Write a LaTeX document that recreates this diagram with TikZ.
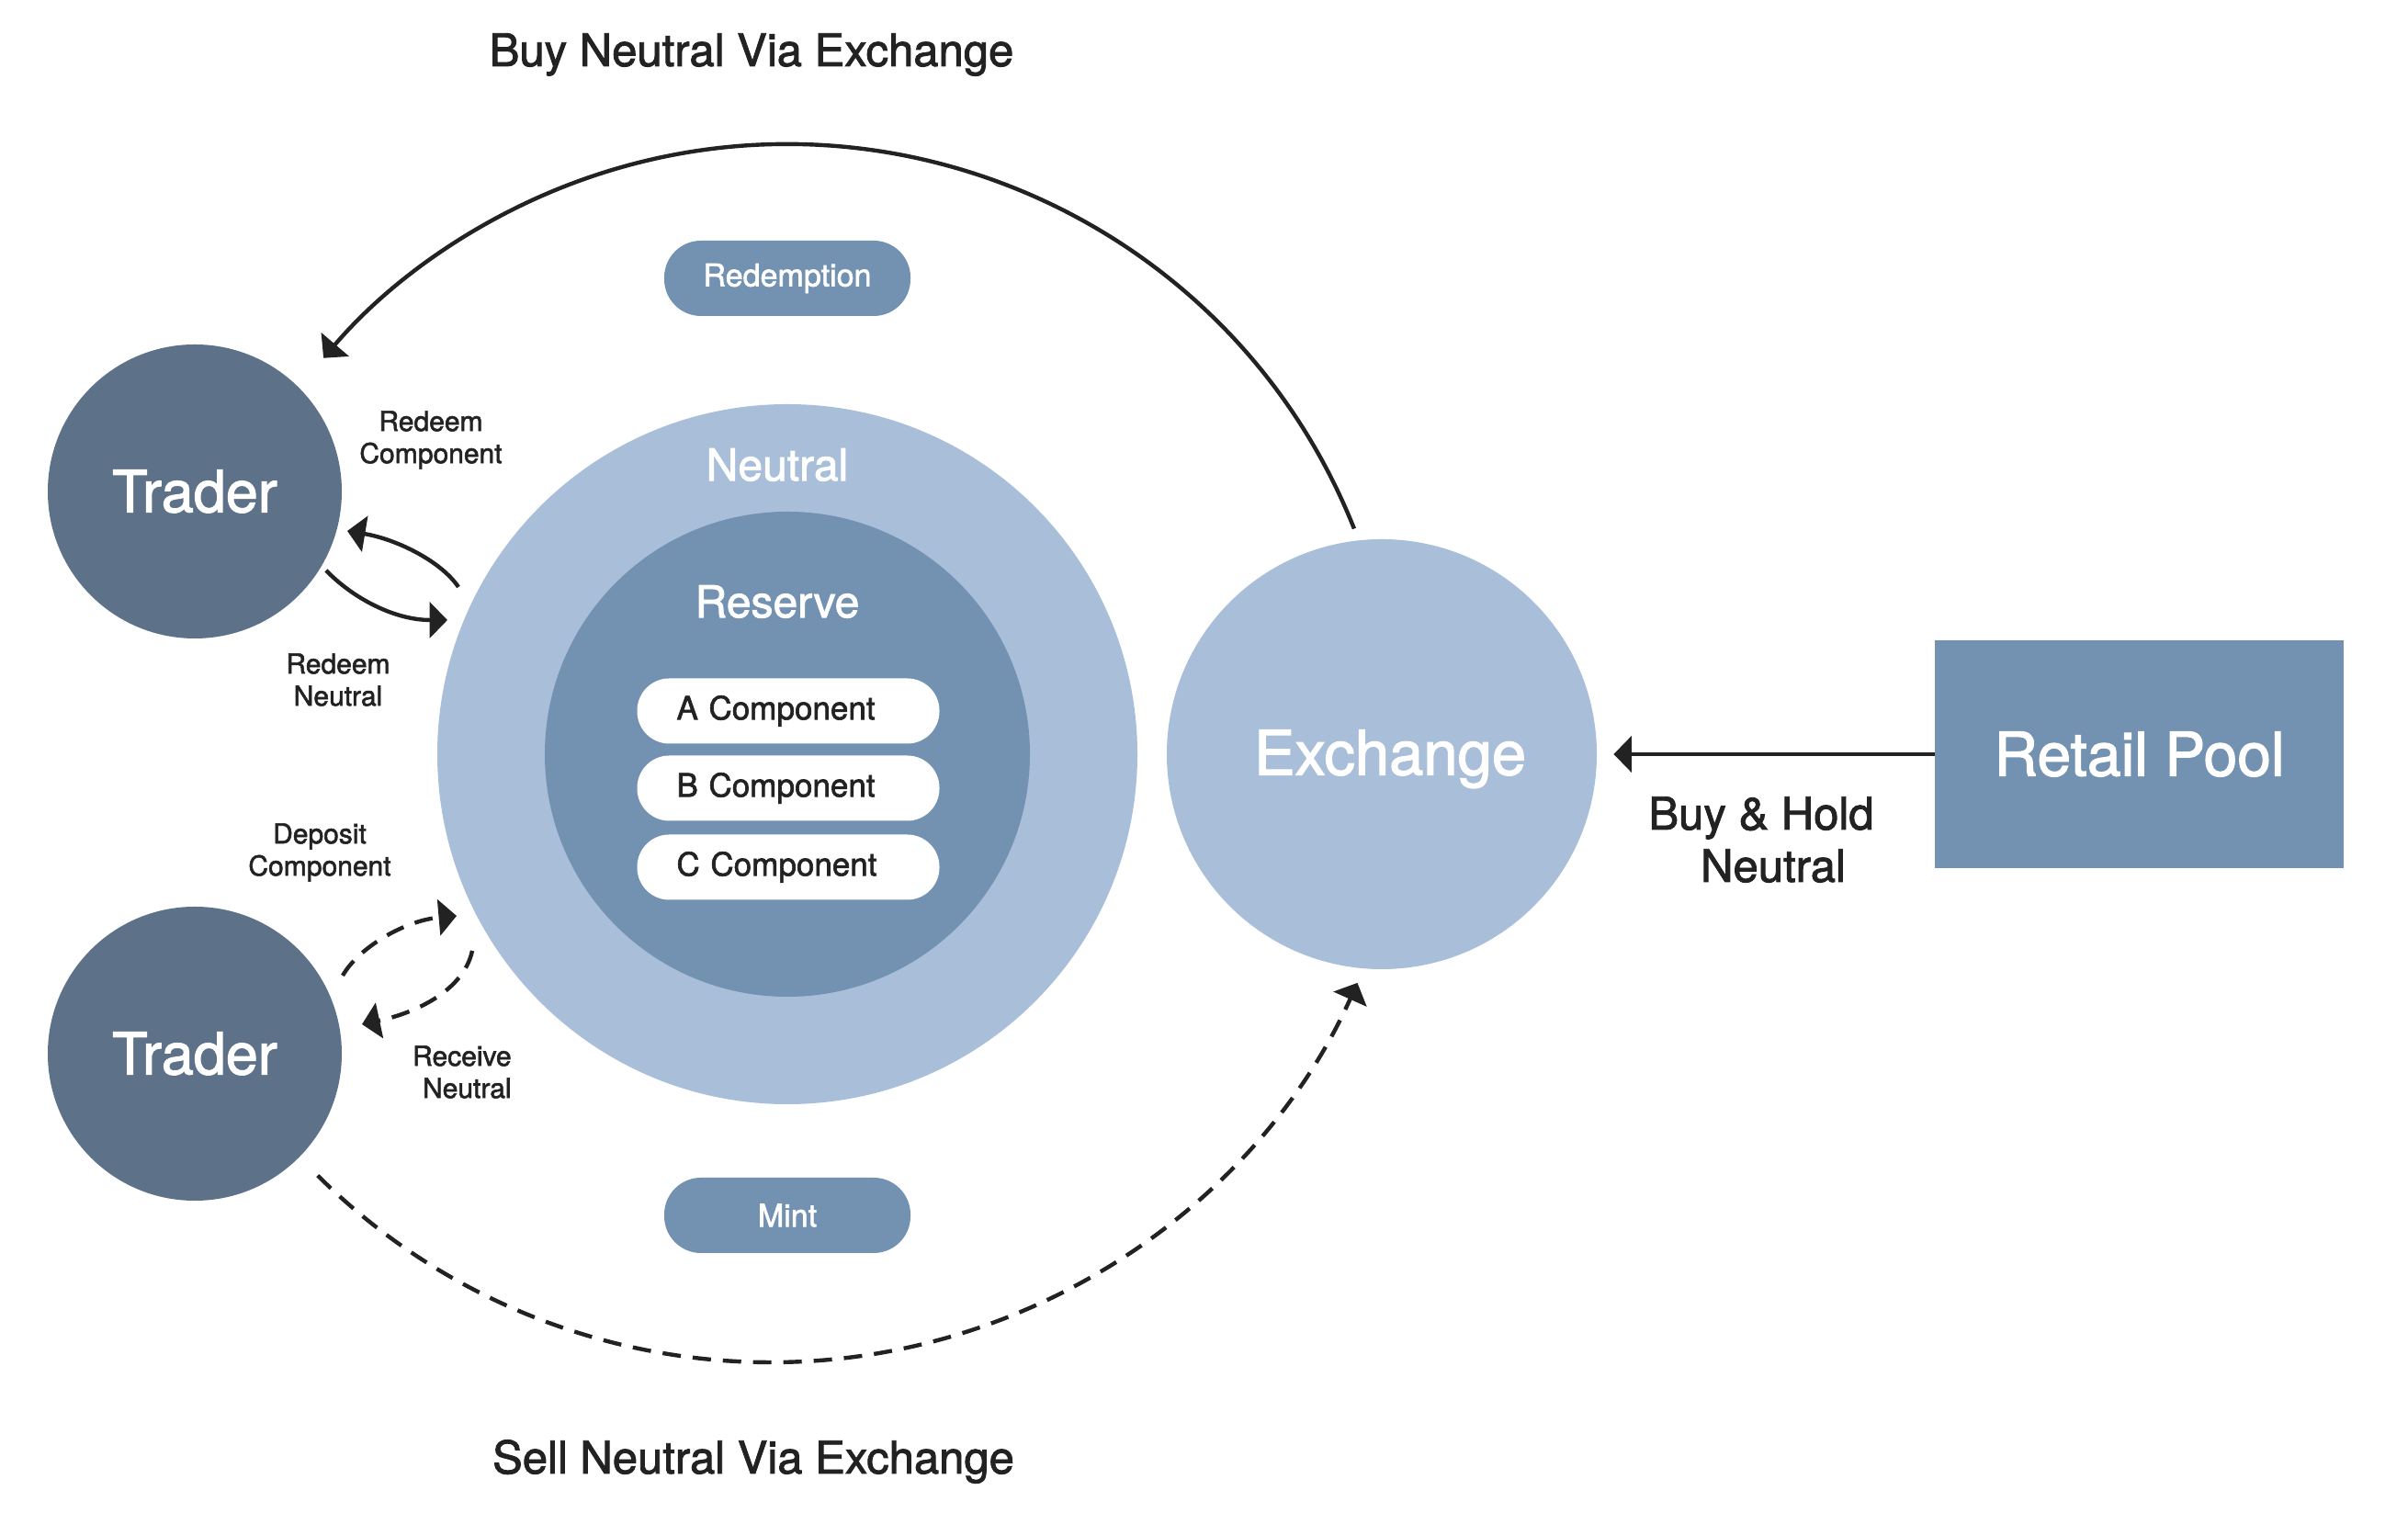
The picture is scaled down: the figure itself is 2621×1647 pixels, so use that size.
\documentclass[tikz,border=0pt]{standalone}
\usepackage{fontspec}
\setmainfont{TeX Gyre Heros}[RawFeature={embolden=1.8}]
\usetikzlibrary{arrows.meta,calc}
\definecolor{traderc}{HTML}{5D7189}
\definecolor{lightc}{HTML}{A9BED9}
\definecolor{midc}{HTML}{7391B1}
\definecolor{darkc}{HTML}{222222}
\tikzset{
  trader/.style={circle, fill=traderc, minimum size=160pt, inner sep=0pt, text=white, font=\fontsize{31.5}{36}\selectfont},
  pill/.style={rectangle, rounded corners=20pt, fill=midc, minimum width=134pt, minimum height=41pt, inner sep=0pt, text=white, font=\fontsize{17}{20}\selectfont},
  comp/.style={rectangle, rounded corners=17.5pt, fill=white, minimum width=164.5pt, minimum height=35.5pt, inner sep=0pt, text=darkc, text width=121.5pt, align=left, font=\fontsize{17.5}{20}\selectfont},
  lbl/.style={text=darkc, align=center, inner sep=0pt, font=\fontsize{15}{17.5}\selectfont},
  title/.style={text=darkc, inner sep=0pt, font=\fontsize{24.5}{28.5}\selectfont},
  ringlbl/.style={text=white, inner sep=0pt, font=\fontsize{24}{28}\selectfont},
  arr/.style={draw=darkc, line width=2.2pt, -{Triangle[length=9.75pt,width=19.5pt]}},
  darr/.style={arr, dash pattern=on 10pt off 6.5pt},
}
\begin{document}
\begin{tikzpicture}[x=0.5pt,y=0.5pt]
\fill[white] (0,0) rectangle (2621,1647);
\useasboundingbox (0,0) rectangle (2621,1647);

% central rings
\node[circle, fill=lightc, minimum size=381pt, inner sep=0pt] (neutral) at (857,826) {};
\node[circle, fill=midc, minimum size=264pt, inner sep=0pt] (reserve) at (857,826) {};
\node[ringlbl] (neutrallbl) at (846,1141) {Neutral};
\node[ringlbl] (reservelbl) at (846,992) {Reserve};
\node[comp] (ca) at (858,873) {A Component};
\node[comp] (cb) at (858,789) {B Component};
\node[comp] (cc) at (858,703) {C Component};

% pills
\node[pill] (redemption) at (857,1344) {Redemption};
\node[pill] (mint) at (857,324) {Mint};

% traders
\node[trader] (t1) at (212,1112) {Trader};
\node[trader] (t2) at (212,500) {Trader};

% exchange and retail pool
\node[circle, fill=lightc, minimum size=234pt, inner sep=0pt] (ex) at (1504,826) {};
\node[text=white, inner sep=0pt, text depth=0pt, font=\fontsize{33.5}{38}\selectfont] (exlbl) at (1513,828) {Exchange};
\node[rectangle, fill=midc, minimum width=222.5pt, minimum height=124pt, inner sep=0pt, text=white, font=\fontsize{33}{38}\selectfont] (rp) at (2328.5,826) {Retail Pool};

% titles and labels
\node[title, anchor=base] (buyvia) at (818,1575) {Buy Neutral Via Exchange};
\node[title, anchor=base] (sellvia) at (820,43) {Sell Neutral Via Exchange};
\node[title, anchor=base] (buyhold1) at (1917,744) {Buy \& Hold};
\node[title, anchor=base] (buyhold2) at (1930,687) {Neutral};
\node[lbl] (lrc) at (469,1168) {Redeem\\Component};
\node[lbl] (lrn) at (368,907) {Redeem\\Neutral};
\node[lbl] (ldc) at (348,719) {Deposit\\Component};
\node[lbl, anchor=east, align=right] (lrv) at (557,480) {Receive\\Neutral};

% big arcs
\coordinate (topstart) at ($(neutral.center)+(21.7:664)$);
\draw[arr] (topstart) arc[start angle=21.7, end angle=139.5, radius=664];
\coordinate (bc) at (839,864);
\coordinate (botstart) at ($(bc)+(225.2:700)$);
\draw[darr] (botstart) arc[start angle=225.2, end angle=335.8, radius=700];

% retail arrow
\draw[arr] (rp.west) -- ($(ex.east)+(18,0)$);

% small arrows, top trader
\coordinate (rcS) at ($(neutral.center)+(-358,182)$);
\coordinate (rcE) at ($(t1.center)+(166,-43)$);
\draw[arr] (rcS) .. controls (480,1036) and (432,1060) .. (rcE);
\coordinate (rnS) at ($(t1.center)+(143,-86)$);
\coordinate (rnE) at ($(neutral.center)+(-370,146)$);
\draw[arr] (rnS) .. controls (385,995) and (430,972) .. (rnE);

% small arrows, bottom trader
\coordinate (dcS) at ($(t2.center)+(161,85)$);
\coordinate (dcE) at ($(neutral.center)+(-360,-176)$);
\draw[darr] (dcS) .. controls (390,615) and (440,645) .. (dcE);
\coordinate (rvS) at ($(neutral.center)+(-343,-214)$);
\coordinate (rvE) at ($(t2.center)+(182,32)$);
\draw[darr] (rvS) .. controls (505,570) and (455,545) .. (rvE);
\end{tikzpicture}
\end{document}
